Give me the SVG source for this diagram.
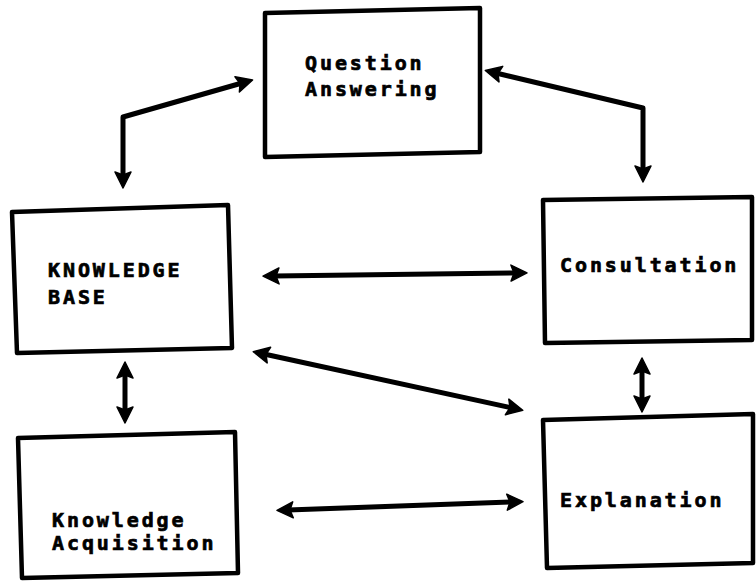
<svg xmlns="http://www.w3.org/2000/svg" width="756" height="582" viewBox="0 0 756 582">
<style>
.box{fill:#fff;stroke:#000;stroke-width:4.5;stroke-linejoin:round}
.lbl{font-family:"DejaVu Sans Mono","Liberation Mono",monospace;font-weight:bold;font-size:20px;letter-spacing:2.9px;fill:#000;stroke:#000;stroke-width:0.7px}
.con{fill:none;stroke:#000;stroke-width:5;stroke-linejoin:round;marker-start:url(#ah);marker-end:url(#ah)}
</style>
<defs>
<marker id="ah" markerUnits="userSpaceOnUse" markerWidth="20" markerHeight="18" refX="5" refY="8" orient="auto-start-reverse" overflow="visible">
<path d="M0,0 L16,8 L0,16 L3,8 z" fill="#000" stroke="#000" stroke-width="1.5" stroke-linejoin="round"/>
</marker>
</defs>
<rect width="756" height="582" fill="#fff"/>
<g id="connectors">
<path class="con" d="M242,83 L123,117 L123,177"/>
<path class="con" d="M496,73 L643,108 L643,171"/>
<path class="con" d="M274,276 L516,273"/>
<path class="con" d="M264,354 L512,408"/>
<path class="con" d="M125,373 L125,412"/>
<path class="con" d="M642,369 L642,401"/>
<path class="con" d="M288,510 L512,502"/>
</g>
<g id="question-answering">
<path class="box" d="M265,13 L480,8 L480,152 L265,157 Z"/>
<text class="lbl" x="305" y="70">Question</text>
<text class="lbl" x="305" y="96">Answering</text>
</g>
<g id="knowledge-base">
<path class="box" d="M12,212 L228,205 L232,348 L17,353 Z"/>
<text class="lbl" x="48" y="277">KNOWLEDGE</text>
<text class="lbl" x="48" y="304">BASE</text>
</g>
<g id="consultation">
<path class="box" d="M543,200 L752,197 L752,340 L545,343 Z"/>
<text class="lbl" x="560" y="272">Consultation</text>
</g>
<g id="explanation">
<path class="box" d="M543,420 L753,414 L753,563 L547,568 Z"/>
<text class="lbl" x="560" y="507">Explanation</text>
</g>
<g id="knowledge-acquisition">
<path class="box" d="M18,438 L235,432 L238,573 L22,578 Z"/>
<text class="lbl" x="52" y="527">Knowledge</text>
<text class="lbl" x="52" y="550">Acquisition</text>
</g>
</svg>
